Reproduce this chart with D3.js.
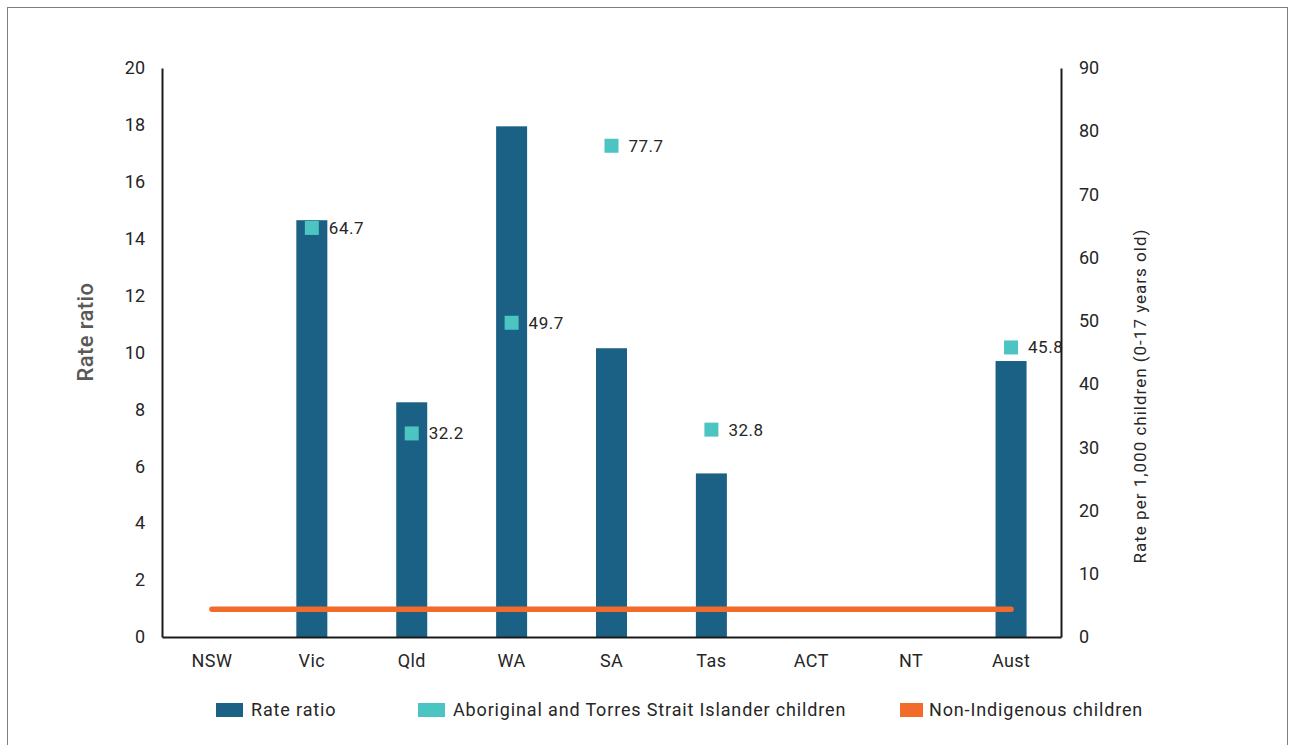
<!DOCTYPE html>
<html>
<head>
<meta charset="UTF-8">
<title>Rate ratio chart</title>
<script src="https://d3js.org/d3.v7.min.js"></script>
<style>
  body { margin: 0; background: #fff; }
  text { font-family: Roboto, "Noto Sans", sans-serif; }
</style>
</head>
<body>
<div id="chart"></div>
<script>
// data
const states = ["NSW", "Vic", "Qld", "WA", "SA", "Tas", "ACT", "NT", "Aust"];
const rateRatio = [null, 14.65, 8.25, 17.95, 10.15, 5.75, null, null, 9.7];
const indigenousRate = [null, 64.7, 32.2, 49.7, 77.7, 32.8, null, null, 45.8];
const nonIndigenousRate = [4.4, 4.4, 4.4, 4.4, 4.4, 4.4, 4.4, 4.4, 4.4];
const leftTicks = [0, 2, 4, 6, 8, 10, 12, 14, 16, 18, 20];
const rightTicks = [0, 10, 20, 30, 40, 50, 60, 70, 80, 90];
const legendItems = ["Rate ratio", "Aboriginal and Torres Strait Islander children", "Non-Indigenous children"];

const width = 1292, height = 745;
const margin = {top: 68, right: 231, bottom: 108, left: 162};
const colBar = "#1a6185", colSq = "#4cc4c2", colLine = "#f26b2a", textCol = "#262626";

const svg = d3.select("#chart").append("svg")
  .attr("width", width).attr("height", height);

// outer frame
svg.append("rect")
  .attr("x", 7.5).attr("y", 7.5)
  .attr("width", 1280).attr("height", 760)
  .attr("fill", "none").attr("stroke", "#7f7f7f").attr("stroke-width", 1);

const x = d3.scaleBand()
  .domain(states)
  .range([margin.left, width - margin.right])
  .paddingInner(0).paddingOuter(0);

const yL = d3.scaleLinear().domain([0, 20]).range([height - margin.bottom, margin.top]);
const yR = d3.scaleLinear().domain([0, 90]).range([height - margin.bottom, margin.top]);

const barW = 31;

// bars
svg.append("g").selectAll("rect")
  .data(states.map((s, i) => ({s, v: rateRatio[i]})).filter(d => d.v != null))
  .join("rect")
  .attr("x", d => x(d.s) + x.bandwidth() / 2 - barW / 2)
  .attr("y", d => yL(d.v))
  .attr("width", barW)
  .attr("height", d => yL(0) - yL(d.v))
  .attr("fill", colBar);

// non-indigenous line
const line = d3.line()
  .x((d, i) => x(states[i]) + x.bandwidth() / 2)
  .y(d => yR(d));
svg.append("path")
  .attr("d", line(nonIndigenousRate))
  .attr("fill", "none")
  .attr("stroke", colLine)
  .attr("stroke-width", 5.5)
  .attr("stroke-linecap", "round");

// squares + labels
const pts = states.map((s, i) => ({s, v: indigenousRate[i]})).filter(d => d.v != null);
const sq = 14;
svg.append("g").selectAll("rect")
  .data(pts)
  .join("rect")
  .attr("x", d => x(d.s) + x.bandwidth() / 2 - sq / 2)
  .attr("y", d => yR(d.v) - sq / 2)
  .attr("width", sq).attr("height", sq)
  .attr("fill", colSq);
svg.append("g").selectAll("text")
  .data(pts)
  .join("text")
  .attr("x", d => x(d.s) + x.bandwidth() / 2 + 17)
  .attr("y", d => yR(d.v))
  .attr("dy", "0.35em")
  .attr("font-size", 17)
  .attr("letter-spacing", 0.5)
  .attr("fill", textCol)
  .text(d => d.v.toFixed(1));

// axes
const axisL = svg.append("g")
  .attr("transform", `translate(${margin.left},0)`)
  .call(d3.axisLeft(yL).tickValues(leftTicks).tickSize(0).tickPadding(17));
const axisR = svg.append("g")
  .attr("transform", `translate(${width - margin.right},0)`)
  .call(d3.axisRight(yR).tickValues(rightTicks).tickSize(0).tickPadding(18));
const axisB = svg.append("g")
  .attr("transform", `translate(0,${height - margin.bottom})`)
  .call(d3.axisBottom(x).tickSize(0).tickPadding(17));

for (const a of [axisL, axisR, axisB]) {
  a.select(".domain").attr("stroke", "#1a1a1a").attr("stroke-width", 2);
  a.selectAll("text").attr("font-size", 18).attr("fill", textCol)
    .style("font-family", "Roboto, 'Noto Sans', sans-serif");
}
axisB.selectAll("text").attr("letter-spacing", 0.4);

// axis titles
svg.append("text")
  .attr("transform", `translate(93,332) rotate(-90)`)
  .attr("text-anchor", "middle")
  .attr("font-size", 22)
  .attr("font-weight", 500)
  .attr("letter-spacing", 0.4)
  .attr("fill", "#595959")
  .text("Rate ratio");
svg.append("text")
  .attr("transform", `translate(1146,396) rotate(-90)`)
  .attr("text-anchor", "middle")
  .attr("font-size", 17)
  .attr("letter-spacing", 1)
  .attr("fill", textCol)
  .text("Rate per 1,000 children (0-17 years old)");

// legend
const legX = [216, 418, 900];
const legCols = [colBar, colSq, colLine];
const leg = svg.append("g").selectAll("g")
  .data(legendItems)
  .join("g")
  .attr("transform", (d, i) => `translate(${legX[i]},703)`);
leg.append("rect")
  .attr("width", (d, i) => i === 2 ? 23 : 27)
  .attr("height", 14)
  .attr("fill", (d, i) => legCols[i]);
leg.append("text")
  .attr("x", (d, i) => i === 2 ? 29 : 35)
  .attr("y", 7)
  .attr("dy", "0.35em")
  .attr("font-size", 18)
  .attr("letter-spacing", 0.85)
  .attr("fill", textCol)
  .text(d => d);
</script>
</body>
</html>
